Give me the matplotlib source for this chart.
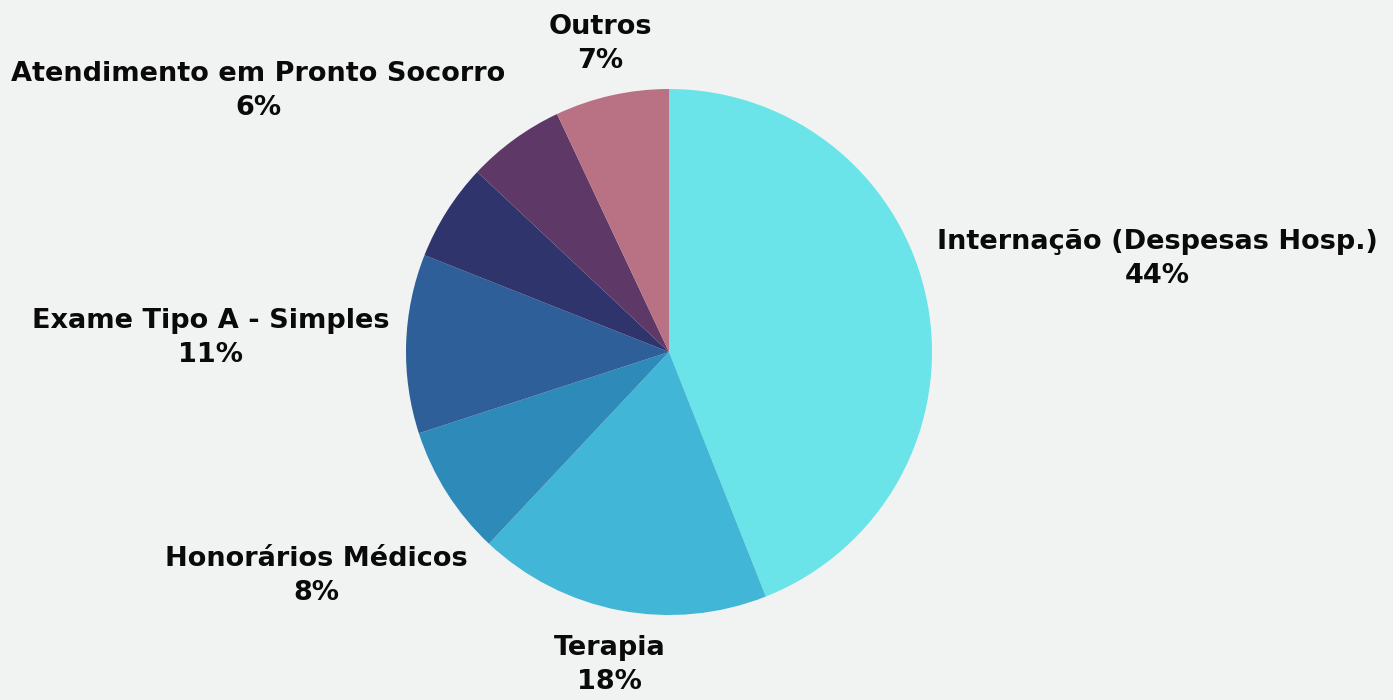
import numpy as np
import matplotlib
matplotlib.use("Agg")
import matplotlib.pyplot as plt

# data
categorias = ["Internação (Despesas Hosp.)", "Terapia", "Honorários Médicos",
              "Exame Tipo A - Simples", "Atendimento em Pronto Socorro", "", "Outros"]
percentuais = [44, 18, 8, 11, 6, 6, 7]
cores = ["#6ae4e8", "#42b6d6", "#2e8ab9", "#2e5f98", "#30346c", "#5e3867", "#b87284"]

# how far out each label sits (in pie radii)
dist_rotulo = [1.89, 1.21, 1.59, 1.745, 1.85, 1.5, 1.20]

W, H = 1393, 700
fig = plt.figure(figsize=(W / 100, H / 100), dpi=100)
fig.patch.set_facecolor("#f1f2f2")
ax = fig.add_axes([0, 0, 1, 1])

cx, cy, r = 669, H - 352, 263
wedges, _ = ax.pie(percentuais, colors=cores, startangle=90, counterclock=False,
                   center=(cx, cy), radius=r, frame=True,
                   wedgeprops=dict(linewidth=0))
ax.set_xlim(0, W)
ax.set_ylim(0, H)
ax.set_aspect("equal")
ax.axis("off")

for w, nome, pct, d in zip(wedges, categorias, percentuais, dist_rotulo):
    if not nome:
        continue
    ang = np.deg2rad((w.theta1 + w.theta2) / 2)
    x = cx + r * d * np.cos(ang)
    y = cy + r * d * np.sin(ang)
    ax.text(x, y, f"{nome}\n{pct}%", ha="center", va="center", fontsize=19.5,
            fontweight="bold", family="DejaVu Sans", color="#0a0a0a",
            linespacing=1.4)

fig.savefig("out.png", dpi=100, facecolor=fig.get_facecolor())
